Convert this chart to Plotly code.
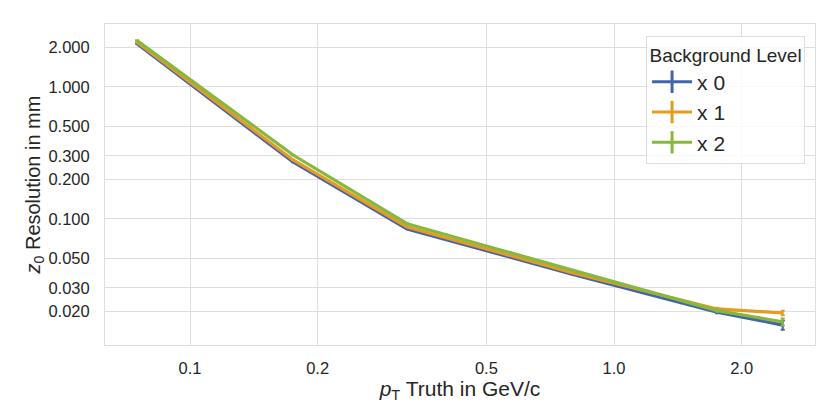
import plotly.graph_objects as go

pt = [0.075, 0.175, 0.325, 0.8, 1.75, 2.5]
res_x0 = [2.13, 0.27, 0.084, 0.038, 0.0197, 0.0157]
res_x1 = [2.18, 0.28, 0.087, 0.039, 0.0208, 0.0194]
res_x2 = [2.25, 0.305, 0.092, 0.041, 0.0202, 0.0166]
err_x0 = [0.005, 0.0008, 0.0002, 0.0001, 0.0004, 0.0012]
err_x1 = [0.005, 0.0008, 0.0002, 0.0001, 0.0004, 0.0008]
err_x2 = [0.005, 0.0008, 0.0002, 0.0001, 0.0004, 0.0010]
names = ["x 0", "x 1", "x 2"]
colors = ["#4463AE", "#E49B22", "#85B83D"]

ytick_vals = [0.02, 0.03, 0.05, 0.1, 0.2, 0.3, 0.5, 1, 2]
ytick_text = ["0.020", "0.030", "0.050", "0.100", "0.200", "0.300", "0.500", "1.000", "2.000"]
xtick_vals = [0.1, 0.2, 0.5, 1, 2]
xtick_text = ["0.1", "0.2", "0.5", "1.0", "2.0"]

fig = go.Figure()
for ys, es, nm, c in zip([res_x0, res_x1, res_x2], [err_x0, err_x1, err_x2], names, colors):
    fig.add_trace(go.Scatter(
        x=pt, y=ys, mode="lines", name=nm, showlegend=False,
        line=dict(color=c, width=3.2),
        error_y=dict(type="data", array=es, color=c, thickness=2, width=2),
    ))
for nm, c in zip(names, colors):
    fig.add_trace(go.Scatter(
        x=[None], y=[None], mode="lines+markers", name=nm,
        line=dict(color=c, width=3),
        marker=dict(symbol="line-ns", size=20, line=dict(color=c, width=3)),
    ))

font_family = "Liberation Sans, Arial, sans-serif"
fig.update_layout(
    width=832, height=416,
    margin=dict(l=105, r=17, t=24, b=71),
    paper_bgcolor="white", plot_bgcolor="white",
    font=dict(family=font_family, color="#262626", size=16.5),
    legend=dict(
        title=dict(text="Background Level", font=dict(size=19), side="top center"),
        font=dict(size=21),
        x=0.986, y=0.963, xanchor="right", yanchor="top",
        bgcolor="rgba(255,255,255,0.85)", bordercolor="#dddddd", borderwidth=1,
        itemwidth=40,
    ),
    xaxis=dict(
        type="log", range=[-1.2005, 0.474],
        tickvals=xtick_vals, ticktext=xtick_text,
        showgrid=True, gridcolor="#dedede", gridwidth=1,
        showline=True, linecolor="#dedede", mirror=True, linewidth=1,
        zeroline=False, ticks="", ticklabelstandoff=8,
        title=dict(text="<i>p</i><sub>T</sub> Truth in GeV/c", font=dict(size=21), standoff=4),
    ),
    yaxis=dict(
        type="log", range=[-1.955, 0.477],
        tickvals=ytick_vals, ticktext=ytick_text,
        showgrid=True, gridcolor="#dedede", gridwidth=1,
        showline=True, linecolor="#dedede", mirror=True, linewidth=1,
        zeroline=False, ticks="", ticklabelstandoff=11,
        title=dict(text="<i>z</i><sub>0</sub> Resolution in mm", font=dict(size=20), standoff=2),
    ),
)

fig.write_html("out.html")
